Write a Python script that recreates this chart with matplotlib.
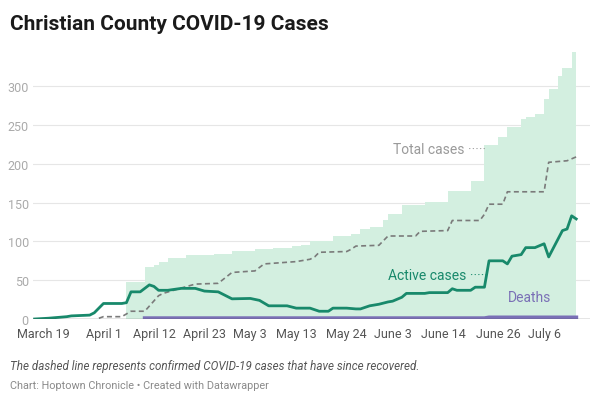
import numpy as np
import pandas as pd
import matplotlib
matplotlib.use('Agg')
import matplotlib.pyplot as plt

plt.rcParams['font.family'] = ['Roboto', 'DejaVu Sans']

# total cases (area, step changes)
total_dates = ['04-06', '04-10', '04-12', '04-13', '04-15', '04-19', '04-25', '04-29',
               '05-04', '05-08', '05-12', '05-14', '05-16', '05-21', '05-25', '05-27',
               '05-29', '06-01', '06-02', '06-05', '06-10', '06-15', '06-20', '06-23',
               '06-26', '06-28', '07-01', '07-02', '07-04', '07-06', '07-07', '07-09',
               '07-10', '07-12', '07-13']
total_vals = [48, 67, 70, 73, 79, 82, 84, 88,
              90, 92, 94, 96, 101, 107, 110, 116,
              119, 127, 135, 147, 151, 165, 178, 224,
              235, 248, 258, 261, 264, 284, 296, 313,
              323, 344, 344]

# recovered (dashed)
rec_dates = ['03-31', '04-01', '04-05', '04-07', '04-10', '04-13', '04-14', '04-18',
             '04-21', '04-26', '04-29', '05-04', '05-06', '05-13', '05-16', '05-17',
             '05-18', '05-24', '05-25', '05-26', '05-31', '06-01', '06-02', '06-08',
             '06-09', '06-15', '06-16', '06-22', '06-23', '06-24', '06-27', '06-28',
             '07-06', '07-07', '07-11', '07-13']
rec_vals = [1, 3, 3, 10, 10, 30, 33, 40,
            45, 46, 60, 62, 71, 74, 77, 80,
            86, 87, 90, 94, 95, 101, 107, 107,
            113, 114, 127, 127, 135, 148, 148, 164,
            164, 202, 204, 209]

# active cases
active_dates = ['03-17', '03-20', '03-24', '03-25', '03-29', '03-30', '04-01', '04-05',
                '04-06', '04-07', '04-09', '04-11', '04-12', '04-13', '04-15', '04-18',
                '04-21', '04-23', '04-26', '04-29', '05-03', '05-05', '05-07', '05-11',
                '05-13', '05-16', '05-18', '05-20', '05-21', '05-24', '05-26', '05-27',
                '05-29', '05-31', '06-02', '06-03', '06-05', '06-06', '06-10', '06-11',
                '06-15', '06-16', '06-17', '06-20', '06-21', '06-23', '06-24', '06-27',
                '06-28', '06-29', '07-01', '07-02', '07-04', '07-06', '07-07', '07-10',
                '07-11', '07-12', '07-13']
active_vals = [0, 1, 3, 4, 5, 8, 20, 20,
               21, 35, 35, 44, 42, 37, 37, 39.5,
               39.5, 36, 35, 26, 26.5, 24, 17, 17,
               14, 14, 10, 10, 14, 14, 13, 13,
               17, 19, 22, 23, 28, 33, 33, 34,
               34, 39, 37, 37, 41, 41, 75, 75,
               71, 81, 83, 92, 92, 97, 80, 114,
               116, 133, 129]

# deaths
death_dates = ['04-10', '06-23', '06-24', '07-13']
death_vals = [1, 1, 2, 2]

tick_dates = ['03-19', '04-01', '04-12', '04-23', '05-03', '05-13', '05-24',
              '06-03', '06-14', '06-26', '07-06']
tick_labels = ['March 19', 'April 1', 'April 12', 'April 23', 'May 3', 'May 13',
               'May 24', 'June 3', 'June 14', 'June 26', 'July 6']


def to_dt(lst):
    return pd.to_datetime(['2020-' + d for d in lst])


c_area = '#d3efe0'
c_active = '#18896b'
c_rec = '#7a7a7a'
c_death = '#7a70b6'

fig = plt.figure(figsize=(6, 4.06), dpi=100)
ax = fig.add_axes([33/600, 86/406, 557/600, 271.5/406])

base = pd.Timestamp('2020-03-19')
ax.set_xlim(base - pd.Timedelta(days=2.35), base + pd.Timedelta(days=119))
ax.set_ylim(0, 350)

ax.fill_between(to_dt(total_dates), 0, total_vals, step='post', color=c_area, lw=0, zorder=1)
ax.plot(to_dt(rec_dates), rec_vals, color=c_rec, lw=1.2, dashes=(3, 2), zorder=3)
ax.plot(to_dt(active_dates), active_vals, color=c_active, lw=2.0, zorder=4,
        solid_joinstyle='round')
ax.plot(to_dt(death_dates), death_vals, color=c_death, lw=2.8, zorder=5)
ax.axhline(0, color='#444444', lw=0.9, zorder=6)

ax.set_yticks([0, 50, 100, 150, 200, 250, 300])
ax.yaxis.grid(True, color='#e6e6e6', lw=0.8, zorder=0)
ax.set_axisbelow(True)
ax.set_xticks(to_dt(tick_dates))
ax.set_xticklabels(tick_labels)
ax.tick_params(axis='y', length=0, pad=3, labelsize=9, labelcolor='#aaaaaa')
ax.tick_params(axis='x', length=0, pad=5.5, labelsize=9, labelcolor='#555555')
for s in ax.spines.values():
    s.set_visible(False)

ax.text(pd.Timestamp('2020-06-03'), 219, 'Total cases \u00b7\u00b7\u00b7\u00b7\u00b7',
        color='#9a9a9a', fontsize=10, va='center', ha='left', zorder=7)
ax.text(pd.Timestamp('2020-06-02'), 57, 'Active cases \u00b7\u00b7\u00b7\u00b7\u00b7',
        color=c_active, fontsize=10, va='center', ha='left', zorder=7)
ax.text(pd.Timestamp('2020-06-28'), 28, 'Deaths',
        color=c_death, fontsize=10, va='center', ha='left', zorder=7)

fig.text(10/600, 1 - 29.5/406, 'Christian County COVID-19 Cases', fontsize=15,
         fontweight='bold', color='#1a1a1a', va='baseline', ha='left')
fig.text(10/600, 1 - 370.5/406,
         'The dashed line represents confirmed COVID-19 cases that have since recovered.',
         fontsize=8.4, style='italic', color='#555555', va='baseline', ha='left')
fig.text(10/600, 1 - 389/406, 'Chart: Hoptown Chronicle \u2022 Created with Datawrapper',
         fontsize=7.8, color='#8a8a8a', va='baseline', ha='left')

fig.savefig('out.png', dpi=100)
